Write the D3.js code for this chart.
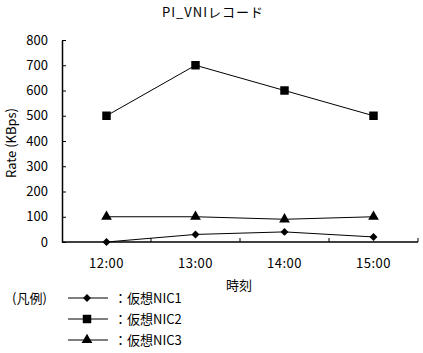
<!DOCTYPE html>
<html>
<head>
<meta charset="utf-8">
<script src="https://cdn.jsdelivr.net/npm/d3@7"></script>
<style>
  body { margin: 0; background: #fff; }
  text { font-family: "Noto Sans CJK JP", "DejaVu Sans", sans-serif; fill: #000; }
</style>
</head>
<body>
<svg id="chart"></svg>
<script>
const times = ['12:00', '13:00', '14:00', '15:00'];
const nic1 = [0, 30, 40, 20];
const nic2 = [500, 700, 600, 500];
const nic3 = [100, 100, 90, 100];
const seriesNames = ['：仮想NIC1', '：仮想NIC2', '：仮想NIC3'];
const yTicks = [0, 100, 200, 300, 400, 500, 600, 700, 800];

const width = 423, height = 353;
const margin = {top: 40, right: 5, bottom: 111, left: 62};
const inner_width = width - margin.left - margin.right;
const inner_height = height - margin.top - margin.bottom;

const svg = d3.select('#chart')
    .attr('width', width)
    .attr('height', height);

const chart = svg.append('g')
    .attr('transform', `translate(${margin.left}, ${margin.top})`);

const xscale = d3.scaleBand()
    .domain(times)
    .range([0, inner_width]);

const yscale = d3.scaleLinear()
    .domain([0, 800])
    .range([inner_height, 0]);

// y axis, ticks pointing inward
const yaxis = d3.axisRight(yscale)
    .tickValues(yTicks)
    .tickSize(4)
    .tickSizeOuter(0)
    .tickFormat('');
chart.append('g').call(yaxis)
    .call(g => g.select('.domain').attr('stroke-width', 1.5));

chart.selectAll('.ylab')
    .data(yTicks)
    .enter().append('text')
    .attr('x', -14)
    .attr('y', d => yscale(d))
    .attr('dy', '0.35em')
    .attr('text-anchor', 'end')
    .style('font-size', '13px')
    .text(d => d);

// x axis: line + boundary ticks pointing up
chart.append('line')
    .attr('x1', 0).attr('x2', inner_width)
    .attr('y1', inner_height).attr('y2', inner_height)
    .attr('stroke', '#000').attr('stroke-width', 1.5);
const bounds = times.slice(1).map(t => xscale(t)).concat([xscale.range()[1]]);
chart.selectAll('.xtick')
    .data(bounds)
    .enter().append('line')
    .attr('x1', d => d).attr('x2', d => d)
    .attr('y1', inner_height).attr('y2', inner_height - 4)
    .attr('stroke', '#000');

chart.selectAll('.xlab')
    .data(times)
    .enter().append('text')
    .attr('x', d => xscale(d) + xscale.bandwidth() / 2)
    .attr('y', inner_height + 26)
    .attr('text-anchor', 'middle')
    .style('font-size', '13px')
    .style('letter-spacing', '0.5px')
    .text(d => d);

const cx = t => xscale(t) + xscale.bandwidth() / 2;
const line = d3.line()
    .x((d, i) => cx(times[i]))
    .y(d => yscale(d));

const series = [nic1, nic2, nic3];
const symbols = [
    d3.symbol().type(d3.symbolDiamond2).size(40),
    d3.symbol().type(d3.symbolSquare).size(72),
    d3.symbol().type(d3.symbolTriangle).size(50)
];

series.forEach((vals, k) => {
    chart.append('path')
        .attr('d', line(vals))
        .attr('fill', 'none')
        .attr('stroke', '#000')
        .attr('stroke-width', 1);
    chart.selectAll('.m' + k)
        .data(vals)
        .enter().append('path')
        .attr('d', symbols[k]())
        .attr('transform', (d, i) => `translate(${cx(times[i])}, ${yscale(d)})`)
        .attr('fill', '#000');
});

// titles
svg.append('text')
    .attr('x', 213).attr('y', 17)
    .attr('text-anchor', 'middle')
    .style('font-size', '13px')
    .style('letter-spacing', '1px')
    .text('PI_VNIレコード');

svg.append('text')
    .attr('x', 239).attr('y', 290)
    .attr('text-anchor', 'middle')
    .style('font-size', '13px')
    .text('時刻');

svg.append('text')
    .attr('transform', 'rotate(-90)')
    .attr('x', -143).attr('y', 16)
    .attr('text-anchor', 'middle')
    .style('font-size', '13px')
    .text('Rate (KBps)');

// legend
svg.append('text')
    .attr('x', 12).attr('y', 303)
    .style('font-size', '13px')
    .text('(凡例)');

const legend = svg.selectAll('.legend')
    .data(seriesNames)
    .enter().append('g')
    .attr('transform', (d, i) => `translate(68, ${298 + i * 21})`);
legend.append('line')
    .attr('x1', 0).attr('x2', 40)
    .attr('stroke', '#000');
legend.append('path')
    .attr('d', (d, i) => symbols[i]())
    .attr('transform', 'translate(19, 0)')
    .attr('fill', '#000');
legend.append('text')
    .attr('x', 46).attr('y', 0)
    .attr('dy', '0.35em')
    .style('font-size', '13px')
    .text(d => d);
</script>
</body>
</html>
